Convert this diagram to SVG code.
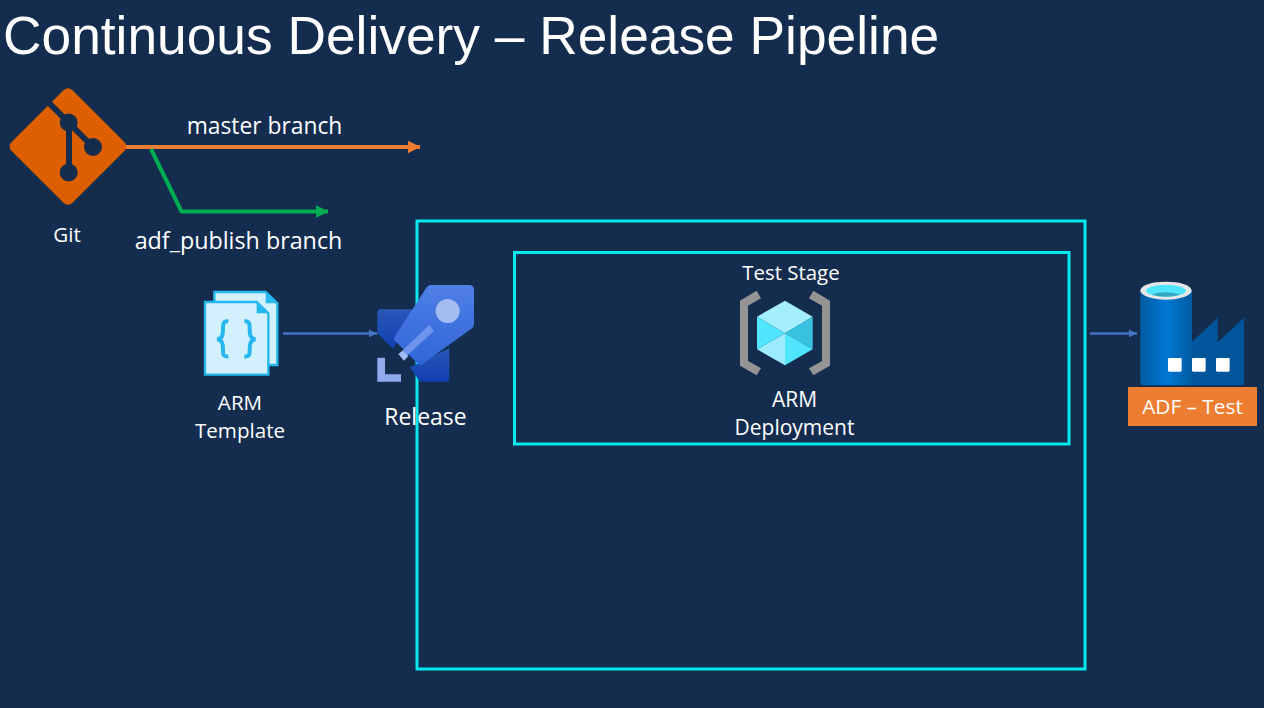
<svg xmlns="http://www.w3.org/2000/svg" width="1264" height="708" viewBox="0 0 1264 708">
<style>
text{font-family:"Open Sans","Noto Sans","Liberation Sans",sans-serif;fill:#fff;text-anchor:middle}
.t20{font-size:20.600px}
.box{fill:none;stroke:#05e9ef;stroke-width:3}
.conn{fill:none}
.blue{stroke:#4472c4;stroke-width:2.500}
.sil{fill:#142d4f}
</style>
<defs>
<marker id="aO" markerUnits="userSpaceOnUse" markerWidth="13" markerHeight="13" refX="12.500" refY="6.500" orient="auto"><path d="M0 0L13 6.500L0 13Z" fill="#ed7d31"/></marker>
<marker id="aG" markerUnits="userSpaceOnUse" markerWidth="13" markerHeight="13" refX="12.500" refY="6.500" orient="auto"><path d="M0 0L13 6.500L0 13Z" fill="#00ad50"/></marker>
<marker id="aB" markerUnits="userSpaceOnUse" markerWidth="9" markerHeight="9" refX="8.500" refY="4.500" orient="auto"><path d="M0 .5L9 4.500L0 8.500Z" fill="#4472c4"/></marker>
<linearGradient id="cyl" x1="0" x2="1" y1="0" y2="0"><stop offset="0" stop-color="#005ba1"/><stop offset=".5" stop-color="#0078d4"/><stop offset="1" stop-color="#005ba1"/></linearGradient>
<linearGradient id="rk1" x1="0" x2="0" y1="0" y2="1"><stop offset="0" stop-color="#4f80e8"/><stop offset="1" stop-color="#3065d6"/></linearGradient>
<linearGradient id="rk2" x1="0" x2="0" y1="0" y2="1"><stop offset="0" stop-color="#2a58b8"/><stop offset="1" stop-color="#0f40b0"/></linearGradient>
</defs>
<rect width="1264" height="708" fill="#142d4f"/>
<text id="title" x="3" y="54" style="text-anchor:start;font-family:'Liberation Sans',Arial,sans-serif;font-size:53.300px">Continuous Delivery – Release Pipeline</text>

<g id="release-box"><rect class="box" x="417" y="221" width="668" height="448"/></g>
<g id="test-stage"><rect class="box" x="514.500" y="252.500" width="554.500" height="191.500"/><text x="791" y="280" style="font-size:20.400px">Test Stage</text></g>

<g id="connectors" class="conn">
<path d="M126 147H420" stroke="#ed7d31" stroke-width="4" marker-end="url(#aO)"/>
<path d="M151 149L181.500 211.500H328" stroke="#00ad50" stroke-width="4" stroke-linejoin="round" marker-end="url(#aG)"/>
<path class="blue" d="M283 333.500H377" marker-end="url(#aB)"/>
<path class="blue" d="M1090 333.500H1137" marker-end="url(#aB)"/>
</g>

<g id="git">
<rect x="25" y="103.500" width="86" height="86" rx="6" transform="rotate(45 68 146.500)" fill="#dd5f00"/>
<path class="conn" d="M47 101L69 123V172M69 123L93 147" stroke="#142d4f" stroke-width="6"/>
<circle class="sil" cx="68.700" cy="122.500" r="9"/><circle class="sil" cx="93" cy="147" r="9"/><circle class="sil" cx="68.700" cy="172.500" r="9"/>
<text class="t20" x="67" y="242">Git</text>
</g>
<g id="labels">
<text x="264.500" y="134" style="font-size:22.800px">master branch</text>
<text x="238.500" y="249" style="font-size:23.300px">adf_publish branch</text>
</g>

<g id="arm-template">
<g transform="translate(200 285) scale(.3333)">
<path d="M43 21H197L232 55V240H43Z" fill="#d2f0fe" stroke="#25b8ee" stroke-width="7"/>
<path d="M197 21V55H232Z" fill="#25b8ee"/>
<path d="M15 51H170L205 85V269H15Z" fill="#d2f0fe" stroke="#25b8ee" stroke-width="7"/>
<path d="M170 51V85H205Z" fill="#25b8ee"/>
<path class="conn" d="M85 109C68 107 69 119 69 132C69 150 67 160 52 163C67 166 69 176 69 194C69 207 68 216 85 214M133 109C150 107 149 119 149 132C149 150 151 160 166 163C151 166 149 176 149 194C149 207 150 216 133 214" stroke="#25b8ee" stroke-width="12"/>
</g>
<text class="t20" x="240" y="410">ARM</text><text class="t20" x="240" y="438">Template</text>
</g>

<g id="release">
<g transform="translate(370 280) scale(.3333)">
<path d="M32 88H130L70 207L22 160V98Q22 88 32 88Z" fill="url(#rk2)"/>
<path d="M238 205V295Q238 305 228 305H150L120 262Z" fill="url(#rk2)"/>
<path d="M182 15H298Q312 15 312 29V132Q312 142 302 148L158 252Q150 258 142 250L76 184Q70 178 74 170L170 22Q175 15 182 15Z" fill="url(#rk1)"/>
<circle cx="233" cy="93" r="36" fill="#a3bcf2"/>
<path d="M178 135L192 152L110 228L97 212Z" fill="#6e95ee"/>
<path d="M85 222L97 212L115 228L102 242Z" fill="#a3bcf2"/>
<path d="M22 233H45V283H93V305H22Z" fill="#90aaee"/>
</g>
<text x="425.500" y="425" style="font-size:23px">Release</text>
</g>

<g id="arm-deployment">
<g transform="translate(720 250) scale(.3333)">
<path d="M110 122L123 145L84 167V333L123 355L110 376L60 347V152Z" fill="#949494"/>
<path d="M280 122L267 145L306 167V333L267 355L280 376L330 347V152Z" fill="#949494"/>
<path d="M195 152L278 200L195 250L111 200Z" fill="#a5eeff"/>
<path d="M278 200V298L195 250Z" fill="#37c2e0"/>
<path d="M195 250L278 298L195 346Z" fill="#50e6ff"/>
<path d="M195 250V346L111 298Z" fill="#9cebff"/>
<path d="M111 200L195 250L111 298Z" fill="#50e6ff"/>
</g>
<text x="794.500" y="407" style="font-size:21px">ARM</text><text x="794.500" y="435" style="font-size:21px">Deployment</text>
</g>

<g id="adf-test">
<g transform="translate(1060 270) scale(.3333)">
<path d="M241 62H396V346H250Q241 346 241 337Z" fill="url(#cyl)"/>
<path d="M396 215L473 143V217L552 143V337Q552 346 543 346H396Z" fill="#00559b"/>
<ellipse cx="318" cy="62" rx="77" ry="27" fill="#e6e6e6"/>
<ellipse cx="318" cy="62" rx="60" ry="18" fill="#50e6ff"/>
<path d="M275 74Q318 60 361 74Q318 86 275 74Z" fill="#32a8c4"/>
<rect x="324" y="264" width="41" height="41" rx="4" fill="#fff"/>
<rect x="396" y="264" width="41" height="41" rx="4" fill="#fff"/>
<rect x="468" y="264" width="41" height="41" rx="4" fill="#fff"/>
</g>
<rect x="1128" y="387" width="129" height="39" fill="#ed7d31"/>
<text x="1192.500" y="414" style="font-size:20.800px">ADF – Test</text>
</g>
</svg>
